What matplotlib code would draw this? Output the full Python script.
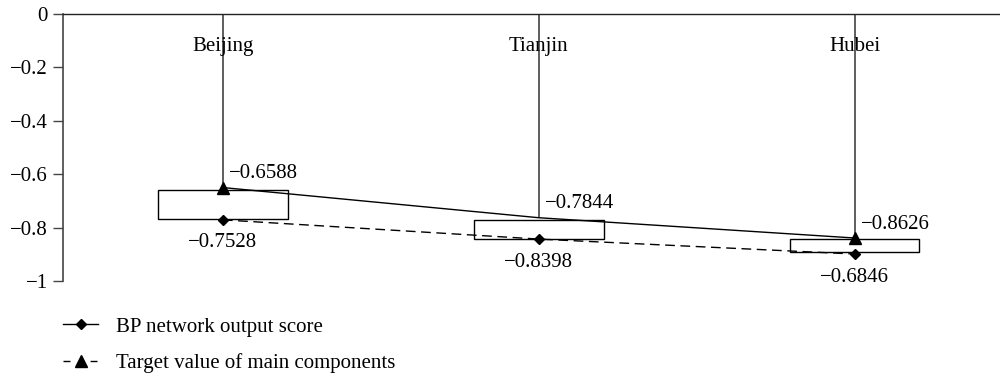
import numpy as np
import matplotlib
matplotlib.use('Agg')
import matplotlib.pyplot as plt
from matplotlib.lines import Line2D
from matplotlib.patches import Rectangle

# Data
categories = ['Beijing', 'Tianjin', 'Hubei']
bp_score = [-0.771, -0.843, -0.899]      # diamonds, dashed line
target = [-0.650, -0.763, -0.839]        # triangles, solid line
box_top = [-0.659, -0.772, -0.844]
box_bottom = [-0.767, -0.843, -0.891]
bp_labels = ['\u22120.7528', '\u22120.8398', '\u22120.6846']
target_labels = ['\u22120.6588', '\u22120.7844', '\u22120.8626']
yticks = [0, -0.2, -0.4, -0.6, -0.8, -1]
ytick_labels = ['0', '\u22120.2', '\u22120.4', '\u22120.6', '\u22120.8', '\u22121']

plt.rcParams['font.family'] = ['Liberation Serif', 'DejaVu Serif']
plt.rcParams['font.size'] = 15

fig = plt.figure(figsize=(10, 3.73), dpi=100)
ax = fig.add_axes([0.063, 1 - 281/373, 0.937, (281 - 14)/373])

x = np.arange(len(categories))
box_w = 0.41

# drop lines from the axis down to the target series
ax.vlines(x, target, 0, color='#333333', lw=1.1, zorder=1)

# up-down boxes
for xi, b, t in zip(x, box_bottom, box_top):
    ax.add_patch(Rectangle((xi - box_w/2, b), box_w, t - b, facecolor='white',
                           edgecolor='black', lw=1.0, zorder=2))

ax.plot(x, target, color='black', lw=1.0, marker='^', ms=8, markevery=[0, 2], zorder=3)
ax.plot(x, bp_score, color='black', lw=1.0, ls=(0, (7, 4)), marker='D', ms=5.5, zorder=3)

for xi, yi, lab in zip(x, target, target_labels):
    ax.annotate(lab, (xi, yi), xytext=(6, 14), textcoords='offset pixels',
                ha='left', va='center')
for xi, yi, lab in zip(x, bp_score, bp_labels):
    ax.annotate(lab, (xi, yi), xytext=(0, -23), textcoords='offset pixels',
                ha='center', va='center')

for xi, lab in zip(x, categories):
    ax.text(xi, -0.122, lab, ha='center', va='center')

ax.set_xlim(-0.506, 2.46)
ax.set_ylim(-1, 0)
ax.set_yticks(yticks)
ax.set_yticklabels(ytick_labels)
ax.set_xticks([])
ax.tick_params(axis='y', length=7, width=1, color='#444444', pad=4)
for s in ['right', 'bottom']:
    ax.spines[s].set_visible(False)
ax.spines['left'].set_color('#444444')
ax.spines['top'].set_color('#222222')
ax.spines['left'].set_linewidth(1.2)
ax.spines['top'].set_linewidth(1.0)

handles = [
    Line2D([], [], color='black', lw=1.0, marker='D', ms=5.5),
    Line2D([], [], color='black', lw=1.0, ls=(0, (5, 14.5)), marker='^', ms=8),
]
fig.legend(handles, ['BP network output score', 'Target value of main components'],
           loc='upper left', bbox_to_anchor=(0.063, 1 - 317/373), frameon=False,
           borderpad=0, borderaxespad=0, handlelength=1.7, handletextpad=0.85,
           labelspacing=0.8)

fig.savefig('out.png', dpi=100)
